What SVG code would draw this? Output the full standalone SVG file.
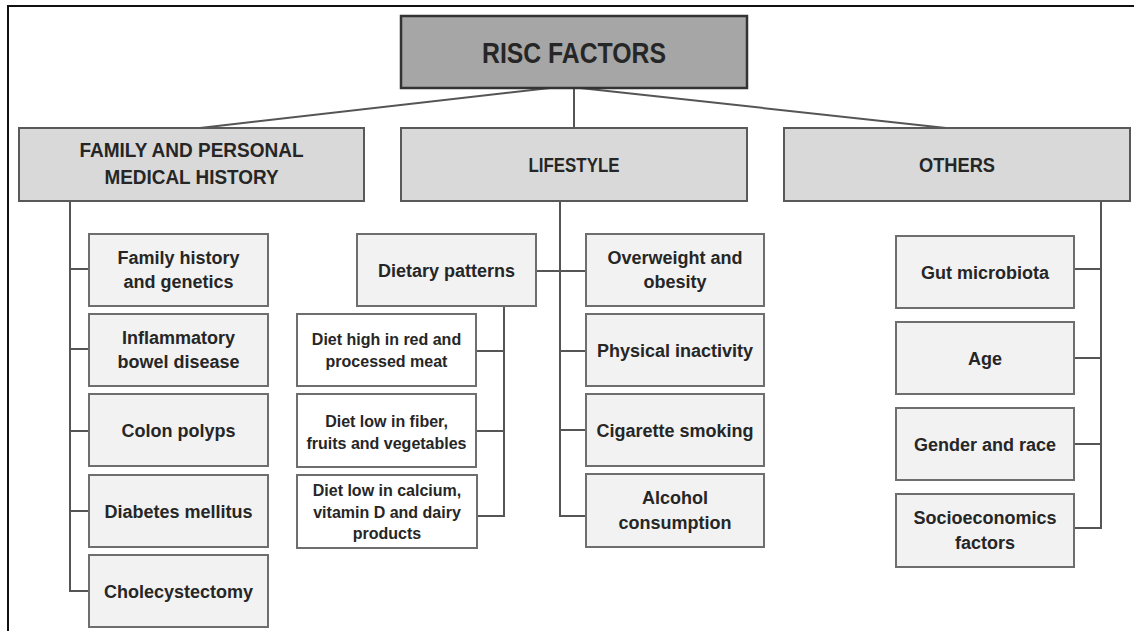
<svg xmlns="http://www.w3.org/2000/svg" width="1134" height="631" viewBox="0 0 1134 631">
<style>
.frame{fill:none;stroke:#111;stroke-width:2}
.conn{fill:none;stroke:#555;stroke-width:2}
.root{fill:#a6a6a6;stroke:#333;stroke-width:2.5}
.l2{fill:#d9d9d9;stroke:#595959;stroke-width:2}
.leaf{fill:#f2f2f2;stroke:#6e6e6e;stroke-width:2}
.sub{fill:#ffffff;stroke:#6e6e6e;stroke-width:2}
text{font-family:"Liberation Sans",Arial,sans-serif;font-weight:bold;fill:#262626;text-anchor:middle}
.t1{font-size:29px}
.t2{font-size:20px}
.t3{font-size:18px}
.t4{font-size:16px}
</style>
<rect x="0" y="0" width="1134" height="631" fill="#ffffff"/>
<rect class="frame" x="8" y="6" width="1140" height="640"/>
<g id="connectors">
<path class="conn" d="M550,88 L200,128"/>
<path class="conn" d="M574,88 V128"/>
<path class="conn" d="M580,88 L946,128"/>
<path class="conn" d="M70,201 V591 H89 M70,269 H89 M70,349 H89 M70,431 H89 M70,511 H89"/>
<path class="conn" d="M560,201 V516 H586 M536,271 H586 M560,351 H586 M560,430 H586"/>
<path class="conn" d="M504,306 V516 H477 M504,351 H476 M504,431 H476"/>
<path class="conn" d="M1101,201 V528 H1074 M1101,269 H1074 M1101,358 H1074 M1101,444 H1074"/>
</g>
<g id="root">
<rect class="root" x="401" y="16" width="346" height="72"/>
<text class="t1" x="574" y="63" textLength="184" lengthAdjust="spacingAndGlyphs">RISC FACTORS</text>
</g>
<g id="family">
<rect class="l2" x="19" y="128" width="345" height="73"/>
<text class="t2" x="191.5" y="157" textLength="224" lengthAdjust="spacingAndGlyphs">FAMILY AND PERSONAL</text>
<text class="t2" x="191.5" y="184" textLength="174" lengthAdjust="spacingAndGlyphs">MEDICAL HISTORY</text>
</g>
<g id="lifestyle">
<rect class="l2" x="401" y="128" width="346" height="73"/>
<text class="t2" x="574" y="172" textLength="91" lengthAdjust="spacingAndGlyphs">LIFESTYLE</text>
</g>
<g id="others">
<rect class="l2" x="784" y="128" width="346" height="73"/>
<text class="t2" x="957" y="172" textLength="76" lengthAdjust="spacingAndGlyphs">OTHERS</text>
</g>
<g id="family-history">
<rect class="leaf" x="89" y="234" width="179" height="72"/>
<text class="t3" x="178.5" y="264">Family history</text>
<text class="t3" x="178.5" y="288">and genetics</text>
</g>
<g id="ibd">
<rect class="leaf" x="89" y="314" width="179" height="72"/>
<text class="t3" x="178.5" y="344">Inflammatory</text>
<text class="t3" x="178.5" y="368">bowel disease</text>
</g>
<g id="colon-polyps">
<rect class="leaf" x="89" y="394" width="179" height="72"/>
<text class="t3" x="178.5" y="437">Colon polyps</text>
</g>
<g id="diabetes">
<rect class="leaf" x="89" y="475" width="179" height="72"/>
<text class="t3" x="178.5" y="518">Diabetes mellitus</text>
</g>
<g id="cholecystectomy">
<rect class="leaf" x="89" y="555" width="179" height="72"/>
<text class="t3" x="178.5" y="598">Cholecystectomy</text>
</g>
<g id="dietary-patterns">
<rect class="leaf" x="357" y="234" width="179" height="72"/>
<text class="t3" x="446.5" y="277">Dietary patterns</text>
</g>
<g id="diet-red-meat">
<rect class="sub" x="297" y="314" width="179" height="72"/>
<text class="t4" x="386.5" y="345">Diet high in red and</text>
<text class="t4" x="386.5" y="367">processed meat</text>
</g>
<g id="diet-low-fiber">
<rect class="sub" x="297" y="394" width="179" height="73"/>
<text class="t4" x="386.5" y="427">Diet low in fiber,</text>
<text class="t4" x="386.5" y="449">fruits and vegetables</text>
</g>
<g id="diet-low-calcium">
<rect class="sub" x="297" y="475" width="180" height="73"/>
<text class="t4" x="387" y="496">Diet low in calcium,</text>
<text class="t4" x="387" y="518">vitamin D and dairy</text>
<text class="t4" x="387" y="539">products</text>
</g>
<g id="overweight">
<rect class="leaf" x="586" y="234" width="178" height="72"/>
<text class="t3" x="675" y="264">Overweight and</text>
<text class="t3" x="675" y="288">obesity</text>
</g>
<g id="physical-inactivity">
<rect class="leaf" x="586" y="314" width="178" height="72"/>
<text class="t3" x="675" y="357">Physical inactivity</text>
</g>
<g id="smoking">
<rect class="leaf" x="586" y="394" width="178" height="72"/>
<text class="t3" x="675" y="437">Cigarette smoking</text>
</g>
<g id="alcohol">
<rect class="leaf" x="586" y="474" width="178" height="73"/>
<text class="t3" x="675" y="504">Alcohol</text>
<text class="t3" x="675" y="529">consumption</text>
</g>
<g id="gut-microbiota">
<rect class="leaf" x="896" y="236" width="178" height="72"/>
<text class="t3" x="985" y="279">Gut microbiota</text>
</g>
<g id="age">
<rect class="leaf" x="896" y="322" width="178" height="72"/>
<text class="t3" x="985" y="365">Age</text>
</g>
<g id="gender-race">
<rect class="leaf" x="896" y="408" width="178" height="72"/>
<text class="t3" x="985" y="451">Gender and race</text>
</g>
<g id="socioeconomics">
<rect class="leaf" x="896" y="494" width="178" height="73"/>
<text class="t3" x="985" y="524">Socioeconomics</text>
<text class="t3" x="985" y="549">factors</text>
</g>
</svg>
